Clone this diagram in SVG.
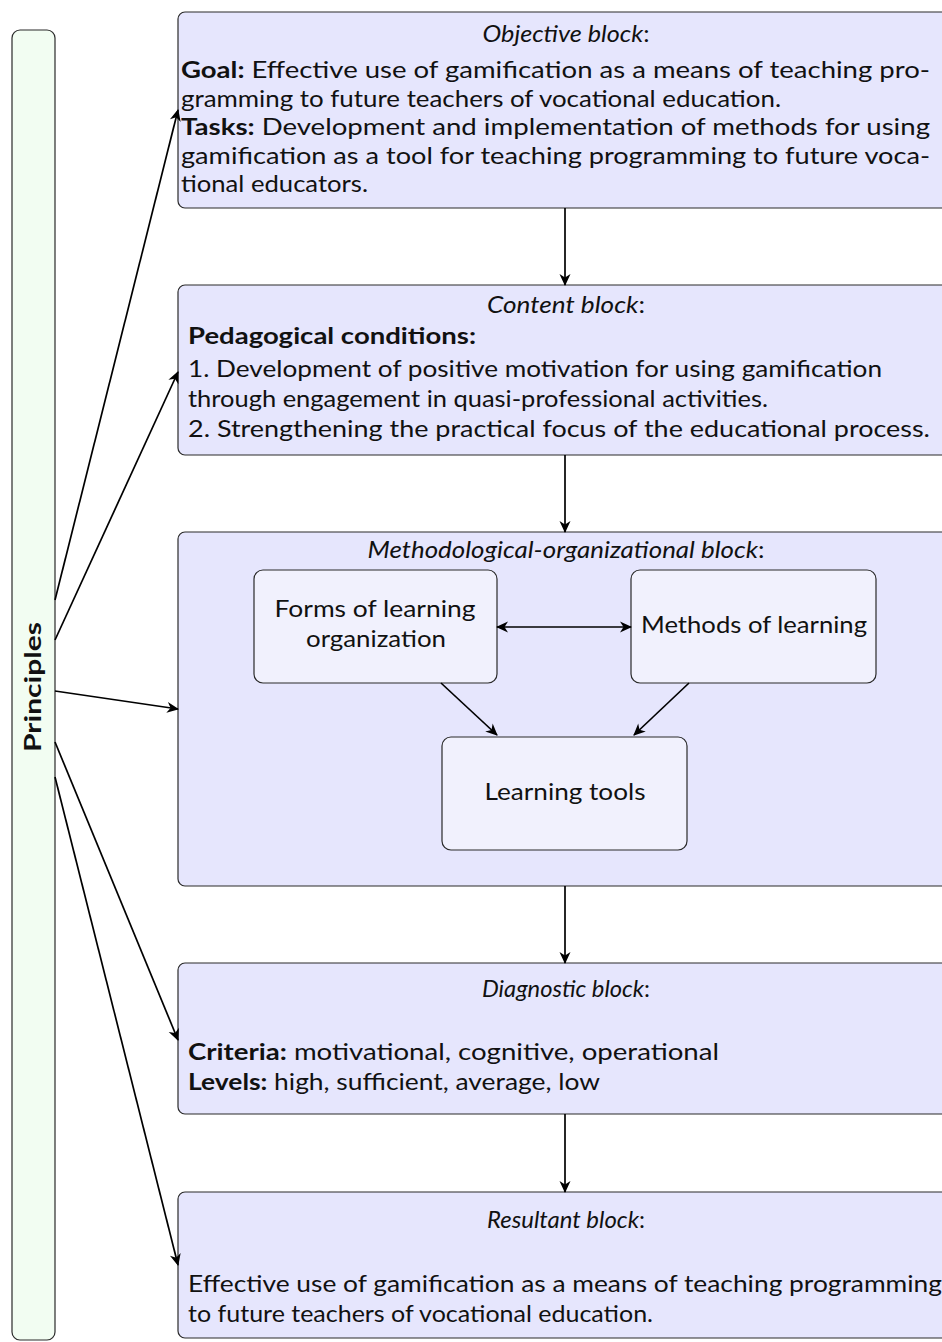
<svg xmlns="http://www.w3.org/2000/svg" width="942" height="1342" viewBox="0 0 942 1342">
<defs>
<style>
.blk{fill:#E6E6FD;stroke:#2a2a2a;stroke-width:1.2}
.inn{fill:#F1F1FD;stroke:#2a2a2a;stroke-width:1.2}
.pr{fill:#F2FDF2;stroke:#2a2a2a;stroke-width:1.2}
text{font-family:"Lato","Noto Sans","Liberation Sans",sans-serif;font-size:23px;fill:#111}
.it{font-style:italic}
.b{font-weight:bold}
.c{text-anchor:middle}
.con line{stroke:#000;stroke-width:1.7;marker-end:url(#ah)}
</style>
<marker id="ah" markerUnits="userSpaceOnUse" orient="auto-start-reverse" overflow="visible" markerWidth="14" markerHeight="14" refX="0" refY="0">
<path d="M1,0 L-11,-5.5 L-7.5,0 L-11,5.5 Z" fill="#000"/>
</marker>
</defs>

<g id="principles">
<rect class="pr" x="12" y="30" width="43" height="1310" rx="8"/>
<text class="b c" transform="translate(41,687) rotate(-90)" textLength="130" lengthAdjust="spacingAndGlyphs">Principles</text>
</g>

<g id="objective">
<rect class="blk" x="178" y="12" width="777" height="196" rx="7"/>
<text class="c" x="566" y="42" textLength="167" lengthAdjust="spacingAndGlyphs"><tspan class="it">Objective block</tspan>:</text>
<text x="181" y="78" textLength="749" lengthAdjust="spacingAndGlyphs"><tspan class="b">Goal:</tspan> Effective use of gamification as a means of teaching pro-</text>
<text x="181" y="107" textLength="600" lengthAdjust="spacingAndGlyphs">gramming to future teachers of vocational education.</text>
<text x="181" y="135" textLength="749" lengthAdjust="spacingAndGlyphs"><tspan class="b">Tasks:</tspan> Development and implementation of methods for using</text>
<text x="181" y="164" textLength="749" lengthAdjust="spacingAndGlyphs">gamification as a tool for teaching programming to future voca-</text>
<text x="181" y="192" textLength="187" lengthAdjust="spacingAndGlyphs">tional educators.</text>
</g>

<g id="content">
<rect class="blk" x="178" y="285" width="777" height="170" rx="7"/>
<text class="c" x="566" y="313" textLength="158" lengthAdjust="spacingAndGlyphs"><tspan class="it">Content block</tspan>:</text>
<text class="b" x="188" y="344" textLength="288" lengthAdjust="spacingAndGlyphs">Pedagogical conditions:</text>
<text x="188" y="377" textLength="694" lengthAdjust="spacingAndGlyphs">1. Development of positive motivation for using gamification</text>
<text x="188" y="407" textLength="580" lengthAdjust="spacingAndGlyphs">through engagement in quasi-professional activities.</text>
<text x="188" y="437" textLength="742" lengthAdjust="spacingAndGlyphs">2. Strengthening the practical focus of the educational process.</text>
</g>

<g id="methodological">
<rect class="blk" x="178" y="532" width="777" height="354" rx="7"/>
<text class="c" x="566" y="558" textLength="397" lengthAdjust="spacingAndGlyphs"><tspan class="it">Methodological-organizational block</tspan>:</text>
</g>

<g id="forms">
<rect class="inn" x="254" y="570" width="243" height="113" rx="9"/>
<text class="c" x="375" y="617" textLength="201" lengthAdjust="spacingAndGlyphs">Forms of learning</text>
<text class="c" x="376" y="647" textLength="140" lengthAdjust="spacingAndGlyphs">organization</text>
</g>

<g id="methods">
<rect class="inn" x="631" y="570" width="245" height="113" rx="9"/>
<text class="c" x="754" y="633" textLength="226" lengthAdjust="spacingAndGlyphs">Methods of learning</text>
</g>

<g id="tools">
<rect class="inn" x="442" y="737" width="245" height="113" rx="9"/>
<text class="c" x="565" y="800" textLength="161" lengthAdjust="spacingAndGlyphs">Learning tools</text>
</g>

<g id="diagnostic">
<rect class="blk" x="178" y="963" width="777" height="151" rx="7"/>
<text class="c" x="566" y="997" textLength="168" lengthAdjust="spacingAndGlyphs"><tspan class="it">Diagnostic block</tspan>:</text>
<text x="188" y="1060" textLength="531" lengthAdjust="spacingAndGlyphs"><tspan class="b">Criteria:</tspan> motivational, cognitive, operational</text>
<text x="188" y="1090" textLength="412" lengthAdjust="spacingAndGlyphs"><tspan class="b">Levels:</tspan> high, sufficient, average, low</text>
</g>

<g id="resultant">
<rect class="blk" x="178" y="1192" width="777" height="146" rx="7"/>
<text class="c" x="566" y="1228" textLength="158" lengthAdjust="spacingAndGlyphs"><tspan class="it">Resultant block</tspan>:</text>
<text x="188" y="1292" textLength="754" lengthAdjust="spacingAndGlyphs">Effective use of gamification as a means of teaching programming</text>
<text x="188" y="1322" textLength="465" lengthAdjust="spacingAndGlyphs">to future teachers of vocational education.</text>
</g>

<g id="connectors" class="con">
<line x1="565" y1="208" x2="565" y2="285"/>
<line x1="565" y1="455" x2="565" y2="532"/>
<line x1="565" y1="886" x2="565" y2="963"/>
<line x1="565" y1="1114" x2="565" y2="1192"/>
<line x1="497" y1="627" x2="631" y2="627" style="marker-start:url(#ah)"/>
<line x1="441" y1="683" x2="497" y2="735"/>
<line x1="689" y1="683" x2="634" y2="735"/>
<line x1="55" y1="600" x2="178" y2="110"/>
<line x1="55" y1="640" x2="178" y2="372"/>
<line x1="55" y1="691" x2="178" y2="709"/>
<line x1="55" y1="742" x2="178" y2="1040"/>
<line x1="55" y1="777" x2="178" y2="1265"/>
</g>
</svg>
